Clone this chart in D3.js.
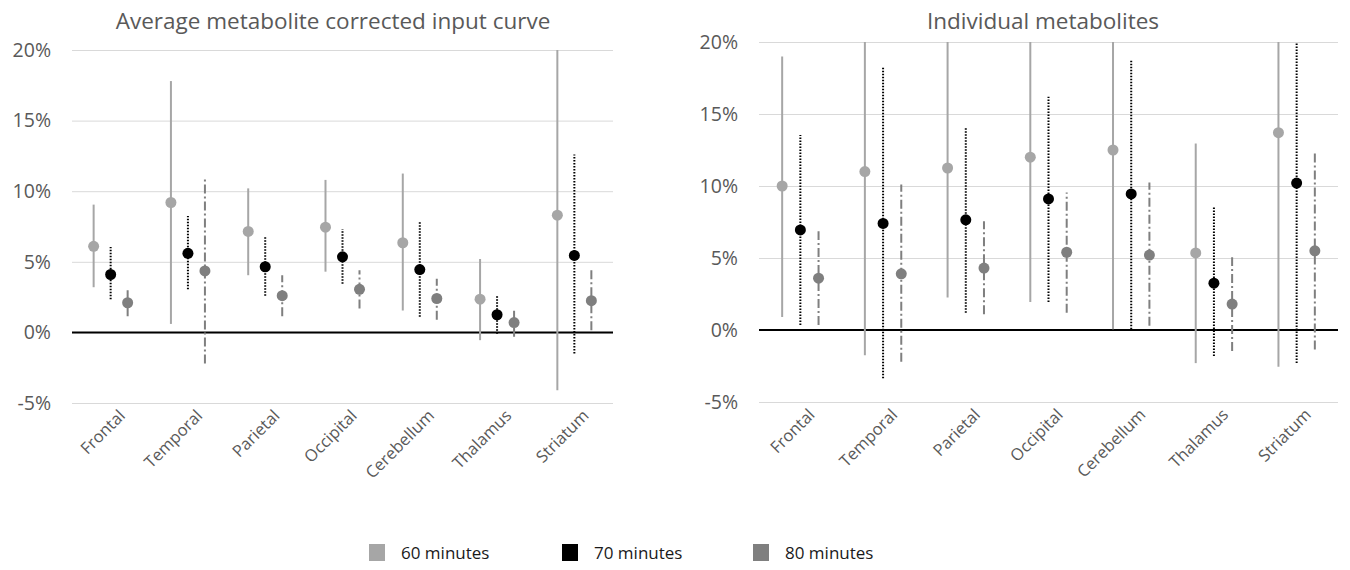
<!DOCTYPE html>
<html>
<head>
<meta charset="utf-8">
<script src="https://d3js.org/d3.v7.min.js"></script>
<style>
	body { margin: 0; background: #fff; }
	svg text { font-family: "Open Sans", "Noto Sans", sans-serif; }
</style>
</head>
<body>
<svg id="chart" width="1350" height="570"></svg>
<script>
var categories = ['Frontal', 'Temporal', 'Parietal', 'Occipital', 'Cerebellum', 'Thalamus', 'Striatum'];
var seriesNames = ['60 minutes', '70 minutes', '80 minutes'];
var tickValues = [-5, 0, 5, 10, 15, 20];

// [mean, low, high] in %, one per category
var avg60 = [[6.1, 3.2, 9.05], [9.2, 0.6, 17.8], [7.15, 4.05, 10.2], [7.45, 4.3, 10.8], [6.35, 1.55, 11.25], [2.35, -0.55, 5.2], [8.3, -4.1, 20.7]];
var avg70 = [[4.1, 2.35, 6.05], [5.6, 3.05, 8.25], [4.65, 2.6, 6.75], [5.35, 3.45, 7.3], [4.45, 1.1, 7.8], [1.25, -0.1, 2.6], [5.45, -1.5, 12.6]];
var avg80 = [[2.1, 1.15, 3.1], [4.35, -2.2, 11.0], [2.6, 1.15, 4.05], [3.05, 1.7, 4.4], [2.4, 0.9, 3.8], [0.7, -0.3, 1.7], [2.25, 0.15, 4.45]];

var ind60 = [[10.0, 0.9, 19.0], [11.0, -1.75, 22.5], [11.25, 2.25, 22.0], [12.0, 1.95, 23.0], [12.5, 0.05, 23.5], [5.35, -2.3, 12.95], [13.7, -2.55, 24.0]];
var ind70 = [[6.95, 0.35, 13.55], [7.4, -3.35, 18.3], [7.65, 1.2, 14.05], [9.1, 1.95, 16.2], [9.45, 0.05, 18.8], [3.25, -1.8, 8.55], [10.2, -2.3, 21.5]];
var ind80 = [[3.6, 0.35, 6.85], [3.9, -2.2, 10.1], [4.3, 1.1, 7.55], [5.4, 1.2, 9.55], [5.2, 0.3, 10.25], [1.8, -1.45, 5.05], [5.5, -1.35, 12.35]];

var seriesColors = ['#a6a6a6', '#000000', '#7f7f7f'];
var seriesDash = [null, '1.5,1.5', '9,3,2,3'];

var svg = d3.select('#chart');

function drawPanel(opts)
{
	var g = svg.append('g');

	var x = d3.scaleBand().domain(categories).range([opts.left, opts.right]);
	var y = d3.scaleLinear().domain([-5, 20]).range([opts.bottom, opts.top]);
	var off = d3.scalePoint().domain(seriesNames).range([-0.22 * x.bandwidth(), 0.22 * x.bandwidth()]);

	// gridlines
	var grid = g.append('g')
		.attr('transform', 'translate(' + opts.left + ',0)')
		.call(d3.axisLeft(y).tickValues(tickValues).tickSize(-(opts.right - opts.left)).tickFormat(''));
	grid.select('.domain').remove();
	grid.selectAll('line').attr('stroke', '#d9d9d9').attr('stroke-width', 1);

	// tick labels
	var yAxis = g.append('g')
		.attr('transform', 'translate(' + opts.labelX + ',0)')
		.call(d3.axisLeft(y).tickValues(tickValues).tickSize(0).tickFormat(function (d) { return d + '%'; }));
	yAxis.select('.domain').remove();
	yAxis.selectAll('text')
		.attr('fill', '#595959')
		.style('font-size', '19.5px')
		.attr('x', 0);

	// zero line
	g.append('line')
		.attr('x1', opts.left).attr('x2', opts.right)
		.attr('y1', y(0)).attr('y2', y(0))
		.attr('stroke', '#000').attr('stroke-width', 2);

	// category labels
	var xAxis = g.append('g')
		.attr('transform', 'translate(0,' + (opts.bottom + 4) + ')')
		.call(d3.axisBottom(x).tickSize(0));
	xAxis.select('.domain').remove();
	xAxis.selectAll('text')
		.attr('fill', '#595959')
		.style('font-size', '16.5px')
		.attr('text-anchor', 'end')
		.attr('dx', '4')
		.attr('dy', '0.9em')
		.attr('transform', 'rotate(-45)');

	var clipId = 'clip' + opts.id;
	svg.append('clipPath').attr('id', clipId)
		.append('rect')
		.attr('x', opts.left).attr('y', opts.top)
		.attr('width', opts.right - opts.left).attr('height', opts.bottom - opts.top);

	var marks = g.append('g').attr('clip-path', 'url(#' + clipId + ')');

	opts.series.forEach(function (data, si)
	{
		var name = seriesNames[si];
		var sg = marks.append('g');
		sg.selectAll('line.err')
			.data(data)
			.enter().append('line')
			.attr('class', 'err')
			.attr('x1', function (d, i) { return x(categories[i]) + x.bandwidth() / 2 + off(name); })
			.attr('x2', function (d, i) { return x(categories[i]) + x.bandwidth() / 2 + off(name); })
			.attr('y1', function (d) { return y(d[1]); })
			.attr('y2', function (d) { return y(d[2]); })
			.attr('stroke', seriesColors[si])
			.attr('stroke-width', 2)
			.attr('stroke-dasharray', seriesDash[si]);
		sg.selectAll('circle')
			.data(data)
			.enter().append('circle')
			.attr('cx', function (d, i) { return x(categories[i]) + x.bandwidth() / 2 + off(name); })
			.attr('cy', function (d) { return y(d[0]); })
			.attr('r', 5.5)
			.attr('fill', seriesColors[si]);
	});

	g.append('text')
		.attr('x', opts.titleX)
		.attr('y', opts.titleY)
		.attr('text-anchor', 'middle')
		.attr('fill', '#595959')
		.style('font-size', '22.5px')
		.text(opts.title);
}

drawPanel({id: 'a', left: 72, right: 613, top: 50, bottom: 403, labelX: 51, title: 'Average metabolite corrected input curve', titleX: 333, titleY: 29, series: [avg60, avg70, avg80]});
drawPanel({id: 'b', left: 759, right: 1338, top: 42, bottom: 402, labelX: 738, title: 'Individual metabolites', titleX: 1043, titleY: 29, series: [ind60, ind70, ind80]});

// legend
var legend = svg.append('g').attr('transform', 'translate(0,544)');
var legendX = [369, 562, 753];
seriesNames.forEach(function (name, i)
{
	legend.append('rect')
		.attr('x', legendX[i]).attr('y', 0)
		.attr('width', 16).attr('height', 17)
		.attr('fill', seriesColors[i]);
	legend.append('text')
		.attr('x', legendX[i] + 32).attr('y', 15)
		.attr('fill', '#1a1a1a')
		.style('font-size', '17px')
		.text(name);
});
</script>
</body>
</html>
